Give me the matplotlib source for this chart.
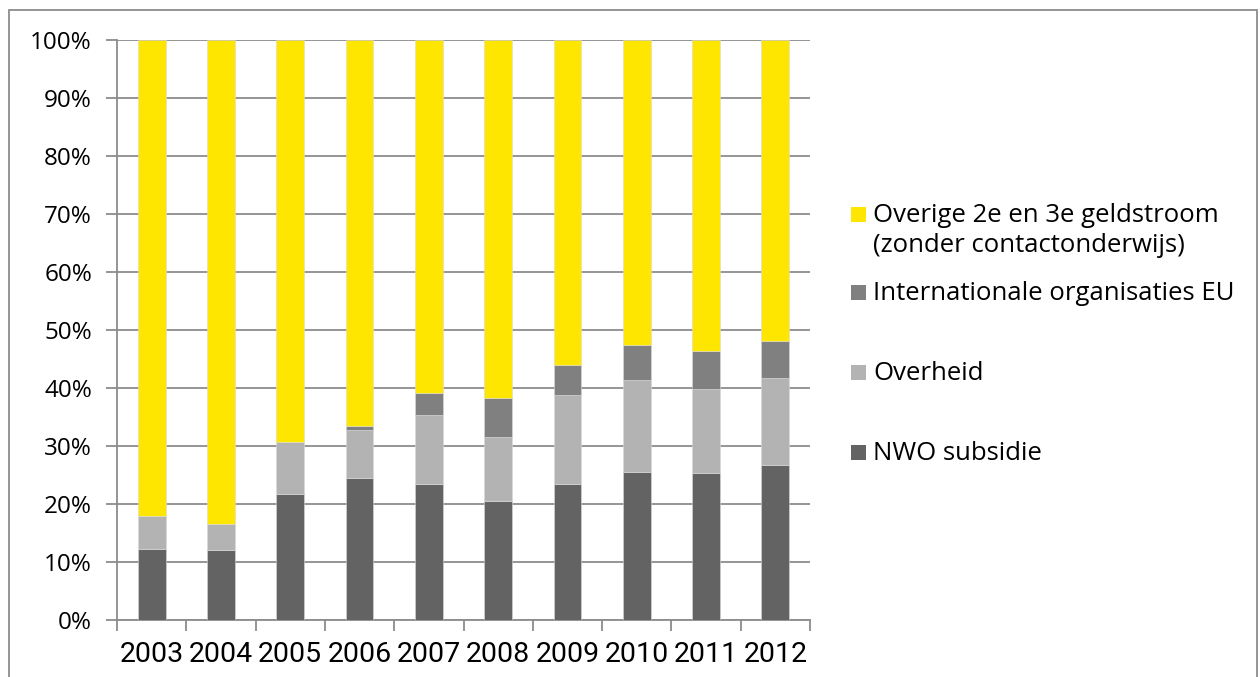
import matplotlib
matplotlib.use("Agg")
import matplotlib.pyplot as plt
from matplotlib.patches import Rectangle
import numpy as np

years = ["2003", "2004", "2005", "2006", "2007", "2008", "2009", "2010", "2011", "2012"]
nwo = [12.2, 12.0, 21.8, 24.4, 23.5, 20.6, 23.5, 25.6, 25.4, 26.7]
overheid = [5.8, 4.6, 8.9, 8.4, 11.8, 11.0, 15.3, 15.8, 14.4, 15.0]
internationaal = [0.0, 0.0, 0.0, 0.6, 3.9, 6.6, 5.2, 6.0, 6.6, 6.4]
overige = [100 - a - b - c for a, b, c in zip(nwo, overheid, internationaal)]

labels = ["NWO subsidie", "Overheid", "Internationale organisaties EU",
          "Overige 2e en 3e geldstroom\n(zonder contactonderwijs)"]
colors = ["#636363", "#b3b3b3", "#808080", "#ffe600"]
series = [nwo, overheid, internationaal, overige]

W, H = 1260, 677
fig = plt.figure(figsize=(W / 100, H / 100), dpi=100)
ax = fig.add_axes([117 / W, 1 - 620 / H, (810 - 117) / W, (620 - 40) / H])

x = np.arange(len(years))
bottom = np.zeros(len(years))
for vals, col in zip(series, colors):
    ax.bar(x, vals, bottom=bottom, width=0.4, color=col, edgecolor="#d9d9d9",
           linewidth=0.4, zorder=3)
    bottom += np.array(vals)

ax.set_xlim(-0.5, len(years) - 0.5)
ax.set_ylim(0, 100)
ax.set_yticks(np.arange(0, 101, 10))
ax.set_yticklabels([f"{v}%" for v in range(0, 101, 10)], fontfamily=["Open Sans", "DejaVu Sans"], fontsize=17.5)
ax.set_xticks(x)
ax.set_xticklabels(years, fontfamily=["Roboto", "DejaVu Sans"], fontsize=20.5)
ax.set_xticks(np.arange(-0.5, len(years), 1), minor=True)
ax.tick_params(axis="x", which="major", length=0, pad=15)
ax.tick_params(axis="x", which="minor", length=8, color="#8c8c8c", width=1.3)
ax.tick_params(axis="y", length=8, color="#8c8c8c", width=1.3, pad=10)
ax.yaxis.grid(True, color="#8c8c8c", linewidth=1.3, zorder=0)
for s in ["top", "right"]:
    ax.spines[s].set_visible(False)
for s in ["left", "bottom"]:
    ax.spines[s].set_color("#8c8c8c")
    ax.spines[s].set_linewidth(1.3)

# legend (manual, Excel-style spacing)
leg_items = [
    (3, 214, [214, 244]),
    (2, 292, [292]),
    (1, 372, [372]),
    (0, 452, [452]),
]
for idx, ymid, lines in leg_items:
    fig.patches.append(Rectangle((851 / W, 1 - (ymid + 7.5) / H), 15 / W, 15 / H,
                                 transform=fig.transFigure, facecolor=colors[idx],
                                 edgecolor="none"))
    for ln, yl in zip(labels[idx].split("\n"), lines):
        fig.text(873 / W, 1 - (yl + 1) / H, ln, fontfamily=["Open Sans", "DejaVu Sans"],
                 fontsize=18.5, va="center", ha="left", color="black")

# outer border
fig.patches.append(Rectangle((9 / W, -0.01), (1257 - 9) / W, 1 - 10 / H + 0.01,
                             transform=fig.transFigure, facecolor="none",
                             edgecolor="#8c8c8c", linewidth=1.3))

fig.savefig("out.png", dpi=100)
